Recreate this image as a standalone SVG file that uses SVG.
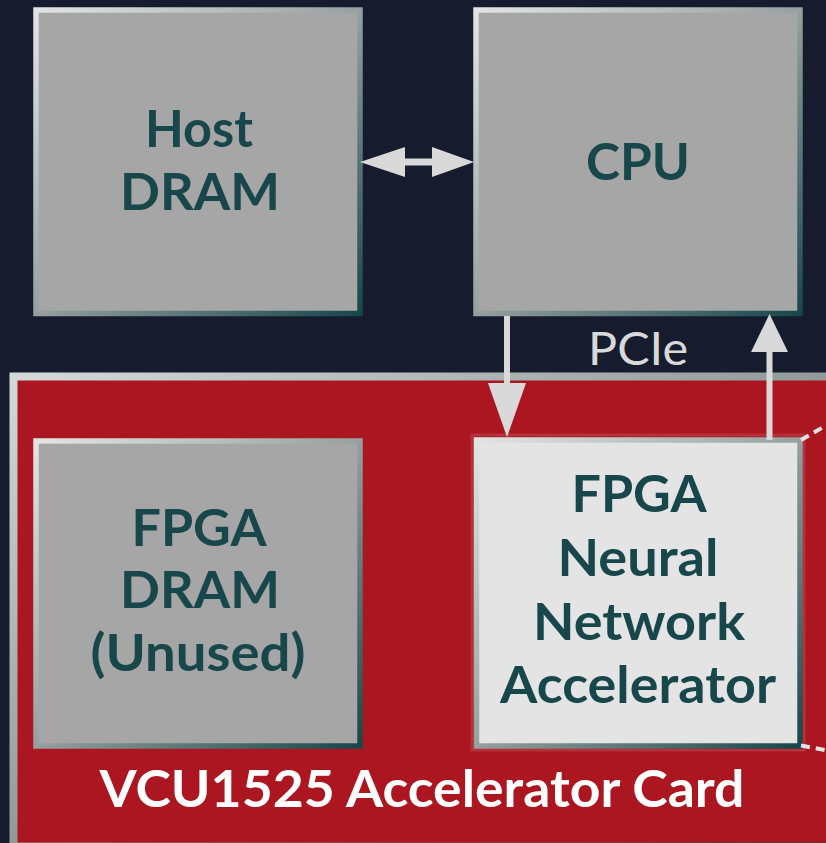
<svg xmlns="http://www.w3.org/2000/svg" width="826" height="843" viewBox="0 0 826 843">
<style>
.lbl{font-family:Lato,"Liberation Sans",sans-serif;font-weight:700;font-size:52px;fill:#17474a;text-anchor:middle}
.card-lbl{font-family:Lato,"Liberation Sans",sans-serif;font-weight:700;font-size:51px;fill:#ffffff;text-anchor:middle}
.pcie{font-family:Lato,"Liberation Sans",sans-serif;font-weight:400;font-size:47px;fill:#d9d9d9;text-anchor:middle}
.conn{fill:#d9d9d9}
.dash{stroke:#e2e2e2;stroke-width:4;stroke-dasharray:9 6;fill:none}
</style>
<defs>
<linearGradient id="edge" x1="0" y1="0" x2="1" y2="1">
<stop offset="0" stop-color="#e2e4e4"/>
<stop offset="0.5" stop-color="#96a0a0"/>
<stop offset="1" stop-color="#17474a"/>
</linearGradient>
<linearGradient id="cardEdge" x1="0" y1="0" x2="1" y2="1">
<stop offset="0" stop-color="#d4d8d8"/>
<stop offset="0.5" stop-color="#8e9a9a"/>
<stop offset="1" stop-color="#1d4a4d"/>
</linearGradient>
</defs>
<rect x="0" y="0" width="826" height="843" fill="#161b2e"/>
<g id="card">
<rect x="13.5" y="376.5" width="830" height="470" fill="#ab1620" stroke="url(#cardEdge)" stroke-width="8"/>
<text class="card-lbl" x="422" y="807" textLength="645" lengthAdjust="spacingAndGlyphs">VCU1525 Accelerator Card</text>
</g>
<g id="host-dram">
<rect x="36" y="10" width="324" height="303.5" fill="#a6a6a6" stroke="url(#edge)" stroke-width="5.5"/>
<text class="lbl" x="199" y="147" textLength="108" lengthAdjust="spacingAndGlyphs">Host</text>
<text class="lbl" x="200" y="210" textLength="160" lengthAdjust="spacingAndGlyphs">DRAM</text>
</g>
<g id="cpu">
<rect x="476" y="10" width="324" height="303.5" fill="#a6a6a6" stroke="url(#edge)" stroke-width="5.5"/>
<text class="lbl" x="638" y="180" textLength="104" lengthAdjust="spacingAndGlyphs">CPU</text>
</g>
<g id="fpga-dram">
<rect x="36" y="441" width="324" height="305" fill="#a6a6a6" stroke="url(#edge)" stroke-width="5.5"/>
<text class="lbl" x="199" y="546" textLength="135" lengthAdjust="spacingAndGlyphs">FPGA</text>
<text class="lbl" x="200" y="608" textLength="160" lengthAdjust="spacingAndGlyphs">DRAM</text>
<text class="lbl" x="198" y="671" textLength="215" lengthAdjust="spacingAndGlyphs">(Unused)</text>
</g>
<g id="accelerator">
<rect x="472" y="435" width="332" height="315" fill="none" stroke="#ffffff" stroke-opacity="0.12" stroke-width="3"/>
<rect x="476.5" y="440" width="323.5" height="306" fill="#e4e4e4" stroke="url(#edge)" stroke-width="5.5"/>
<text class="lbl" x="639" y="512" textLength="135" lengthAdjust="spacingAndGlyphs">FPGA</text>
<text class="lbl" x="638" y="576" textLength="161" lengthAdjust="spacingAndGlyphs">Neural</text>
<text class="lbl" x="639" y="640" textLength="212" lengthAdjust="spacingAndGlyphs">Network</text>
<text class="lbl" x="638" y="703" textLength="276" lengthAdjust="spacingAndGlyphs">Accelerator</text>
</g>
<g id="connectors">
<polygon class="conn" points="360,162 405,147 405,158.5 432,158.5 432,147 474,162 432,177 432,165.5 405,165.5 405,177"/>
<rect class="conn" x="504" y="316" width="6" height="69"/>
<polygon class="conn" points="488,383 526,383 507,437"/>
<rect class="conn" x="766.5" y="350" width="6" height="90"/>
<polygon class="conn" points="751,352 788,352 769.5,314"/>
<line class="dash" x1="801" y1="440" x2="830" y2="423"/>
<line class="dash" x1="801" y1="745.5" x2="830" y2="751"/>
<text class="pcie" x="638" y="365" textLength="100" lengthAdjust="spacingAndGlyphs">PCIe</text>
</g>
</svg>
